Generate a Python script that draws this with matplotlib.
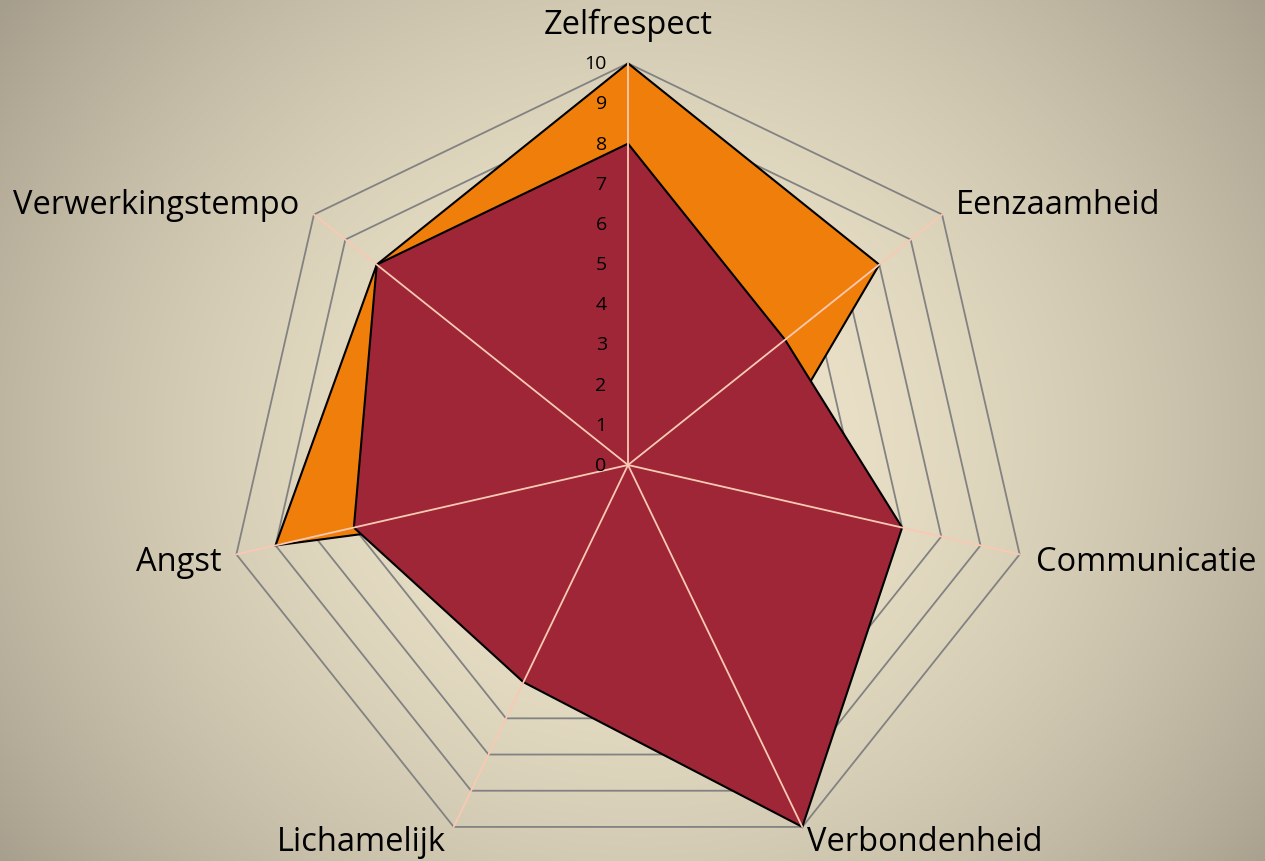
"""
Radar chart: two score profiles over seven themes
"""

import numpy as np
import matplotlib.pyplot as plt

plt.rcParams['font.family'] = ['Open Sans', 'DejaVu Sans']

# Data
categories = ['Zelfrespect', 'Eenzaamheid', 'Communicatie', 'Verbondenheid',
              'Lichamelijk', 'Angst', 'Verwerkingstempo']
scores_back = [10, 8, 3, 4, 1, 9, 8]    # orange series (drawn behind)
scores_front = [8, 5, 7, 10, 6, 7, 8]   # dark red series (drawn in front)
ticks = list(range(0, 11))

# Layout
W, H, DPI = 1265, 862, 100
CX, CY = 628, 466    # chart centre [px]
UNIT = 40.17         # [px] per scale step

ORANGE = '#ef7f0a'
RED = '#9e2637'
GRID = '#828282'
SPOKE = '#f9c9b3'

# label offsets from spoke end [px] and alignment
LABEL_POS = [(0, 22, 'center', 'bottom'), (14, 10, 'left', 'center'),
             (16, -7, 'left', 'center'), (5, -15, 'left', 'center'),
             (-8, -15, 'right', 'center'), (-15, -7, 'right', 'center'),
             (-15, 10, 'right', 'center')]


def to_xy(values):
    n = len(values)
    theta = 2 * np.pi * np.arange(n) / n
    r = np.asarray(values, dtype=float)
    return r * np.sin(theta), r * np.cos(theta)


fig = plt.figure(figsize=(W / DPI, H / DPI), dpi=DPI)
ax = fig.add_axes([0, 0, 1, 1])
xlim = (-CX / UNIT, (W - CX) / UNIT)
ylim = (-(H - CY) / UNIT, CY / UNIT)
ax.set_xlim(*xlim)
ax.set_ylim(*ylim)
ax.axis('off')

# radial gradient background
yy, xx = np.mgrid[0:H, 0:W]
d = np.hypot(xx - 640, (yy - 440) * 1.1) / 800
d = np.clip(d, 0, 1) ** 1.8
c0 = np.array([238, 229, 203]) / 255
c1 = np.array([166, 158, 140]) / 255
bg = c0 + (c1 - c0) * d[..., None]
ax.imshow(bg, extent=(*xlim, *ylim), origin='upper', zorder=0, aspect='auto')

n = len(categories)
top = ticks[-1]

# polygon grid rings
for t in ticks[1:]:
    x, y = to_xy([t] * n)
    ax.plot(np.append(x, x[0]), np.append(y, y[0]), color=GRID, lw=1.3, zorder=1)

# series
for vals, col in [(scores_back, ORANGE), (scores_front, RED)]:
    x, y = to_xy(vals)
    ax.fill(x, y, facecolor=col, edgecolor='black', lw=1.5, zorder=2)

# spokes
ex, ey = to_xy([top] * n)
for i in range(n):
    ax.plot([0, ex[i]], [0, ey[i]], color=SPOKE, lw=1.3, zorder=3)

# scale labels
for t in ticks:
    ax.text(-0.53, t, str(t), ha='right', va='center', fontsize=14, zorder=4)

# category labels
for i, name in enumerate(categories):
    dx, dy, ha, va = LABEL_POS[i]
    ax.annotate(name, (ex[i], ey[i]), xytext=(dx * 0.72, dy * 0.72),
                textcoords='offset points', ha=ha, va=va, fontsize=23.5, zorder=4)

fig.savefig('out.png', dpi=DPI)
